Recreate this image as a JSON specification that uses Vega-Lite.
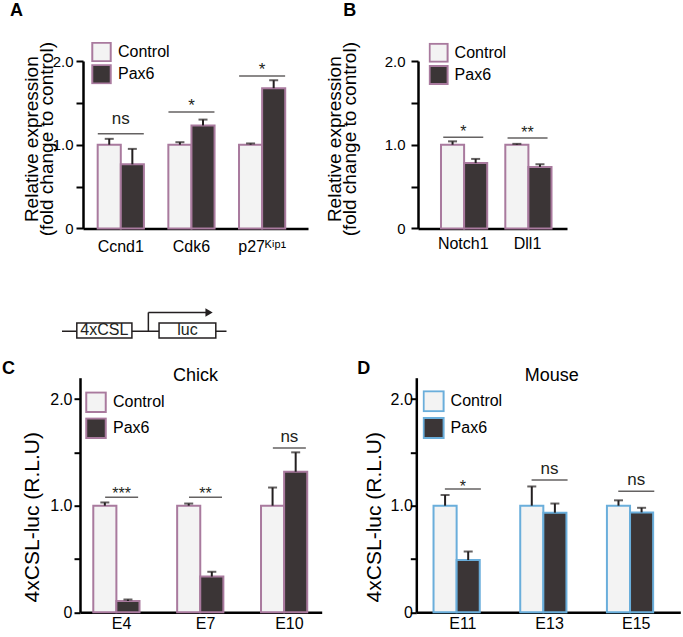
{
  "$schema": "https://vega.github.io/schema/vega-lite/v6.json",
  "padding": {"left": 2, "top": 2, "right": 5, "bottom": 5},
  "background": "white",
  "config": {
    "font": "Liberation Sans",
    "view": {"stroke": null},
    "axis": {"domainColor": "#000", "tickColor": "#000", "labelColor": "#000", "titleColor": "#000", "grid": false, "titleFontWeight": "normal", "labelFont": "Liberation Sans, DejaVu Sans", "titleFont": "Liberation Sans"},
    "legend": {"labelColor": "#000", "labelFont": "Liberation Sans"},
    "title": {"color": "#000", "font": "Liberation Sans"}
  },
  "datasets": {
    "a": [
      {"gene": "Ccnd1", "group": "Control", "value": 1.0, "hi": 1.07},
      {"gene": "Ccnd1", "group": "Pax6", "value": 0.765, "hi": 0.95},
      {"gene": "Cdk6", "group": "Control", "value": 1.0, "hi": 1.03},
      {"gene": "Cdk6", "group": "Pax6", "value": 1.23, "hi": 1.30},
      {"gene": "p27ᴷⁱᵖ¹", "group": "Control", "value": 1.0, "hi": 1.015},
      {"gene": "p27ᴷⁱᵖ¹", "group": "Pax6", "value": 1.675, "hi": 1.77}
    ],
    "a_sig": [
      {"gene": "Ccnd1", "line": 1.13, "sig": "ns"},
      {"gene": "Cdk6", "line": 1.39, "sig": "*"},
      {"gene": "p27ᴷⁱᵖ¹", "line": 1.82, "sig": "*"}
    ],
    "b": [
      {"gene": "Notch1", "group": "Control", "value": 1.0, "hi": 1.04},
      {"gene": "Notch1", "group": "Pax6", "value": 0.78, "hi": 0.83},
      {"gene": "Dll1", "group": "Control", "value": 1.0, "hi": 1.01},
      {"gene": "Dll1", "group": "Pax6", "value": 0.735, "hi": 0.765}
    ],
    "b_sig": [
      {"gene": "Notch1", "line": 1.09, "sig": "*"},
      {"gene": "Dll1", "line": 1.08, "sig": "**"}
    ],
    "c": [
      {"age": "E4", "group": "Control", "value": 1.0, "hi": 1.03},
      {"age": "E4", "group": "Pax6", "value": 0.106, "hi": 0.12},
      {"age": "E7", "group": "Control", "value": 1.0, "hi": 1.02},
      {"age": "E7", "group": "Pax6", "value": 0.335, "hi": 0.38},
      {"age": "E10", "group": "Control", "value": 1.0, "hi": 1.17},
      {"age": "E10", "group": "Pax6", "value": 1.318, "hi": 1.50}
    ],
    "c_sig": [
      {"age": "E4", "line": 1.08, "sig": "***"},
      {"age": "E7", "line": 1.08, "sig": "**"},
      {"age": "E10", "line": 1.54, "sig": "ns"}
    ],
    "d": [
      {"age": "E11", "group": "Control", "value": 1.0, "hi": 1.10},
      {"age": "E11", "group": "Pax6", "value": 0.49, "hi": 0.57},
      {"age": "E13", "group": "Control", "value": 1.0, "hi": 1.18},
      {"age": "E13", "group": "Pax6", "value": 0.934, "hi": 1.02},
      {"age": "E15", "group": "Control", "value": 1.0, "hi": 1.05},
      {"age": "E15", "group": "Pax6", "value": 0.937, "hi": 0.98}
    ],
    "d_sig": [
      {"age": "E11", "line": 1.157, "sig": "*"},
      {"age": "E13", "line": 1.24, "sig": "ns"},
      {"age": "E15", "line": 1.135, "sig": "ns"}
    ],
    "diag_lines": [
      {"part": "backbone", "x1": 0, "x2": 100, "y1": 0, "y2": 0},
      {"part": "tss", "x1": 52.5, "x2": 52.5, "y1": 0, "y2": 2.5},
      {"part": "arrow", "x1": 52.5, "x2": 89, "y1": 2.5, "y2": 2.5}
    ],
    "diag_boxes": [
      {"label": "4xCSL", "x1": 9, "x2": 42.5, "y1": -0.9, "y2": 1.1, "xm": 25.75, "ym": 0.15},
      {"label": "luc", "x1": 59, "x2": 93.5, "y1": -0.9, "y2": 1.1, "xm": 76.25, "ym": 0.15}
    ],
    "diag_head": [{"x": 89.4, "y": 2.5}],
    "empty": []
  },
  "columns": 2,
  "align": "each",
  "bounds": "flush",
  "spacing": {"row": 14.35, "column": 94.3},
  "resolve": {"scale": {"fill": "independent", "x": "independent", "y": "independent"}, "legend": {"fill": "independent"}},
  "concat": [
    {
      "title": {"text": "A", "anchor": "start", "frame": "group", "dx": -70, "dy": -17.5, "fontSize": 18, "fontWeight": "bold"},
      "width": 228, "height": 167.4,
      "layer": [
        {
          "data": {"name": "a"},
          "mark": {"type": "bar", "stroke": "#a97a9e", "strokeWidth": 2},
          "encoding": {
            "x": {"field": "gene", "type": "nominal", "sort": ["Ccnd1", "Cdk6", "p27ᴷⁱᵖ¹"], "scale": {"range": [3, 228], "paddingInner": 0.346, "paddingOuter": 0.265, "align": 0.392},
                  "axis": {"title": null, "ticks": false, "labelAngle": 0, "labelFontSize": 16, "labelPadding": 10, "domainWidth": 2.5}},
            "xOffset": {"field": "group", "type": "nominal", "scale": {"paddingInner": 0, "paddingOuter": 0}},
            "y": {"field": "value", "type": "quantitative", "scale": {"domain": [0, 2], "nice": false},
                  "axis": {"title": ["Relative expression", "(fold change to control)"], "titleFontSize": 19, "titleLineHeight": 15, "titlePadding": -4, "titleY": 77.7, "values": [0, 0.5, 1, 1.5, 2], "labelExpr": "datum.value == 0 ? '0' : (datum.value == 1 || datum.value == 2) ? format(datum.value, '.1f') : ''", "labelFontSize": 15, "labelPadding": 3, "tickSize": 7, "tickWidth": 2, "domainWidth": 2.5, "offset": -3}},
            "fill": {"field": "group", "type": "nominal", "scale": {"domain": ["Control", "Pax6"], "range": ["#f3f3f3", "#3b3536"]},
                     "legend": {"orient": "none", "legendX": 11, "legendY": -19, "title": null, "symbolType": "square", "symbolSize": 340, "symbolStrokeColor": "#a97a9e", "symbolStrokeWidth": 2, "labelFontSize": 16, "clipHeight": 20, "rowPadding": 2.2, "labelOffset": 6}}
          }
        },
        {
          "data": {"name": "a"},
          "mark": {"type": "rule", "color": "#231f20", "strokeWidth": 2},
          "encoding": {"x": {"field": "gene", "type": "nominal", "sort": ["Ccnd1", "Cdk6", "p27ᴷⁱᵖ¹"]}, "xOffset": {"field": "group", "type": "nominal"}, "y": {"field": "value", "type": "quantitative"}, "y2": {"field": "hi"}}
        },
        {
          "data": {"name": "a"},
          "mark": {"type": "tick", "color": "#231f20", "thickness": 2, "size": 9},
          "encoding": {"x": {"field": "gene", "type": "nominal", "sort": ["Ccnd1", "Cdk6", "p27ᴷⁱᵖ¹"]}, "xOffset": {"field": "group", "type": "nominal"}, "y": {"field": "hi", "type": "quantitative"}}
        },
        {
          "data": {"name": "a_sig"},
          "mark": {"type": "tick", "color": "#231f20", "thickness": 1.5, "size": 46},
          "encoding": {"x": {"field": "gene", "type": "nominal", "sort": ["Ccnd1", "Cdk6", "p27ᴷⁱᵖ¹"]}, "y": {"field": "line", "type": "quantitative"}}
        },
        {
          "data": {"name": "a_sig"},
          "transform": [{"filter": "datum.sig == 'ns'"}],
          "mark": {"type": "text", "fontSize": 17, "dy": -10, "baseline": "alphabetic", "color": "#231f20"},
          "encoding": {"x": {"field": "gene", "type": "nominal", "sort": ["Ccnd1", "Cdk6", "p27ᴷⁱᵖ¹"]}, "y": {"field": "line", "type": "quantitative"}, "text": {"field": "sig"}}
        },
        {
          "data": {"name": "a_sig"},
          "transform": [{"filter": "datum.sig != 'ns'"}],
          "mark": {"type": "text", "fontSize": 17, "dy": -1, "baseline": "alphabetic", "color": "#231f20"},
          "encoding": {"x": {"field": "gene", "type": "nominal", "sort": ["Ccnd1", "Cdk6", "p27ᴷⁱᵖ¹"]}, "y": {"field": "line", "type": "quantitative"}, "text": {"field": "sig"}}
        }
      ]
    },
    {
      "title": {"text": "B", "anchor": "start", "frame": "group", "dx": -73, "dy": -17.5, "fontSize": 18, "fontWeight": "bold"},
      "width": 150.7, "height": 167.4,
      "layer": [
        {
          "data": {"name": "b"},
          "mark": {"type": "bar", "stroke": "#a97a9e", "strokeWidth": 2},
          "encoding": {
            "x": {"field": "gene", "type": "nominal", "sort": ["Notch1", "Dll1"], "scale": {"range": [1.7, 150.7], "paddingInner": 0.308, "paddingOuter": 0.3126, "align": 0.572},
                  "axis": {"title": null, "ticks": false, "labelAngle": 0, "labelFontSize": 16, "labelPadding": 7, "domainWidth": 2.5}},
            "xOffset": {"field": "group", "type": "nominal", "scale": {"paddingInner": 0, "paddingOuter": 0}},
            "y": {"field": "value", "type": "quantitative", "scale": {"domain": [0, 2], "nice": false},
                  "axis": {"title": ["Relative expression", "(fold change to control)"], "titleFontSize": 19, "titleLineHeight": 15, "titlePadding": 24.5, "titleY": 77.7, "values": [0, 0.5, 1, 1.5, 2], "labelExpr": "datum.value == 0 ? '0' : (datum.value == 1 || datum.value == 2) ? format(datum.value, '.1f') : ''", "labelFontSize": 15, "labelPadding": 6, "tickSize": 7, "tickWidth": 2, "domainWidth": 2.5, "offset": -1.7}},
            "fill": {"field": "group", "type": "nominal", "scale": {"domain": ["Control", "Pax6"], "range": ["#f3f3f3", "#3b3536"]},
                     "legend": {"orient": "none", "legendX": 12.3, "legendY": -18.3, "title": null, "symbolType": "square", "symbolSize": 324, "symbolStrokeColor": "#a97a9e", "symbolStrokeWidth": 2, "labelFontSize": 16, "clipHeight": 20, "rowPadding": 2.2, "labelOffset": 6}}
          }
        },
        {
          "data": {"name": "b"},
          "mark": {"type": "rule", "color": "#231f20", "strokeWidth": 2},
          "encoding": {"x": {"field": "gene", "type": "nominal", "sort": ["Notch1", "Dll1"]}, "xOffset": {"field": "group", "type": "nominal"}, "y": {"field": "value", "type": "quantitative"}, "y2": {"field": "hi"}}
        },
        {
          "data": {"name": "b"},
          "mark": {"type": "tick", "color": "#231f20", "thickness": 2, "size": 9},
          "encoding": {"x": {"field": "gene", "type": "nominal", "sort": ["Notch1", "Dll1"]}, "xOffset": {"field": "group", "type": "nominal"}, "y": {"field": "hi", "type": "quantitative"}}
        },
        {
          "data": {"name": "b_sig"},
          "mark": {"type": "tick", "color": "#231f20", "thickness": 1.5, "size": 40},
          "encoding": {"x": {"field": "gene", "type": "nominal", "sort": ["Notch1", "Dll1"]}, "y": {"field": "line", "type": "quantitative"}}
        },
        {
          "data": {"name": "b_sig"},
          "mark": {"type": "text", "fontSize": 16, "dy": 0, "baseline": "alphabetic", "color": "#231f20"},
          "encoding": {"x": {"field": "gene", "type": "nominal", "sort": ["Notch1", "Dll1"]}, "y": {"field": "line", "type": "quantitative"}, "text": {"field": "sig"}}
        }
      ]
    },
    {
      "width": 160, "height": 120,
      "layer": [
        {
          "data": {"name": "diag_lines"},
          "mark": {"type": "rule", "color": "#231f20", "strokeWidth": 1.5},
          "encoding": {
            "x": {"field": "x1", "type": "quantitative", "scale": {"domain": [0, 100], "range": [-18, 146.5], "nice": false, "zero": false}, "axis": null},
            "x2": {"field": "x2"},
            "y": {"field": "y1", "type": "quantitative", "scale": {"domain": [-1, 3], "range": [95.35, 65.35], "nice": false, "zero": false}, "axis": null},
            "y2": {"field": "y2"}
          }
        },
        {
          "data": {"name": "diag_boxes"},
          "mark": {"type": "rect", "fill": "white", "stroke": "#231f20", "strokeWidth": 1.5},
          "encoding": {
            "x": {"field": "x1", "type": "quantitative", "axis": null},
            "x2": {"field": "x2"},
            "y": {"field": "y1", "type": "quantitative", "axis": null},
            "y2": {"field": "y2"}
          }
        },
        {
          "data": {"name": "diag_boxes"},
          "mark": {"type": "text", "fontSize": 16, "baseline": "middle", "color": "#231f20"},
          "encoding": {
            "x": {"field": "xm", "type": "quantitative", "axis": null},
            "y": {"field": "ym", "type": "quantitative", "axis": null},
            "text": {"field": "label"}
          }
        },
        {
          "data": {"name": "diag_head"},
          "mark": {"type": "point", "shape": "triangle-right", "filled": true, "color": "#231f20", "size": 70, "opacity": 1},
          "encoding": {
            "x": {"field": "x", "type": "quantitative", "axis": null},
            "y": {"field": "y", "type": "quantitative", "axis": null}
          }
        }
      ]
    },
    {
      "width": 10, "height": 10,
      "data": {"name": "empty"},
      "mark": {"type": "point"},
      "encoding": {}
    },
    {
      "title": {"text": "C", "anchor": "start", "frame": "group", "dx": -78, "dy": 15.7, "fontSize": 18, "fontWeight": "bold"},
      "width": 241.7, "height": 234.6,
      "resolve": {"axis": {"x": "independent"}},
      "layer": [
        {
          "data": {"name": "c"},
          "mark": {"type": "bar", "stroke": "#a97a9e", "strokeWidth": 2},
          "encoding": {
            "x": {"field": "age", "type": "nominal", "sort": ["E4", "E7", "E10"], "scale": {"range": [0, 241.7], "paddingInner": 0.324, "paddingOuter": 0.103, "align": 0.769},
                  "axis": {"orient": "bottom", "title": null, "ticks": false, "labelAngle": 0, "labelFontSize": 16, "labelPadding": 3, "domainWidth": 2.5}},
            "xOffset": {"field": "group", "type": "nominal", "scale": {"paddingInner": 0.21, "paddingOuter": 0}},
            "y": {"field": "value", "type": "quantitative", "scale": {"domain": [0, 2.2], "nice": false},
                  "axis": {"title": "4xCSL-luc (R.L.U)", "titleFontSize": 21, "titlePadding": 7, "titleY": 139, "values": [0, 0.5, 1, 1.5, 2], "labelExpr": "datum.value == 0 ? '0' : (datum.value == 1 || datum.value == 2) ? format(datum.value, '.1f') : ''", "labelFontSize": 16, "labelPadding": 2, "tickSize": 6, "tickWidth": 2, "domainWidth": 2.5}},
            "fill": {"field": "group", "type": "nominal", "scale": {"domain": ["Control", "Pax6"], "range": ["#f3f3f3", "#3b3536"]},
                     "legend": {"orient": "none", "legendX": 5, "legendY": 13.5, "title": null, "symbolType": "square", "symbolSize": 380, "symbolStrokeColor": "#a97a9e", "symbolStrokeWidth": 2, "labelFontSize": 16, "clipHeight": 22, "rowPadding": 4, "labelOffset": 6}}
          }
        },
        {
          "data": {"name": "c"},
          "mark": {"type": "rule", "color": "#231f20", "strokeWidth": 2},
          "encoding": {"x": {"field": "age", "type": "nominal", "sort": ["E4", "E7", "E10"], "axis": null}, "xOffset": {"field": "group", "type": "nominal"}, "y": {"field": "value", "type": "quantitative"}, "y2": {"field": "hi"}}
        },
        {
          "data": {"name": "c"},
          "mark": {"type": "tick", "color": "#231f20", "thickness": 2, "size": 9},
          "encoding": {"x": {"field": "age", "type": "nominal", "sort": ["E4", "E7", "E10"], "axis": null}, "xOffset": {"field": "group", "type": "nominal"}, "y": {"field": "hi", "type": "quantitative"}}
        },
        {
          "data": {"name": "c_sig"},
          "mark": {"type": "tick", "color": "#231f20", "thickness": 1.5, "size": 33},
          "encoding": {"x": {"field": "age", "type": "nominal", "sort": ["E4", "E7", "E10"],
                             "axis": {"orient": "top", "title": "Chick", "titleFontSize": 18, "titleFontWeight": "normal", "labels": false, "ticks": false, "domain": false, "titlePadding": -2.6, "titleBaseline": "alphabetic", "titleX": 115}},
                       "y": {"field": "line", "type": "quantitative"}}
        },
        {
          "data": {"name": "c_sig"},
          "transform": [{"filter": "datum.sig == 'ns'"}],
          "mark": {"type": "text", "fontSize": 17, "dy": -6, "baseline": "alphabetic", "color": "#231f20"},
          "encoding": {"x": {"field": "age", "type": "nominal", "sort": ["E4", "E7", "E10"], "axis": null}, "y": {"field": "line", "type": "quantitative"}, "text": {"field": "sig"}}
        },
        {
          "data": {"name": "c_sig"},
          "transform": [{"filter": "datum.sig != 'ns'"}],
          "mark": {"type": "text", "fontSize": 16, "dy": 2, "baseline": "alphabetic", "color": "#231f20"},
          "encoding": {"x": {"field": "age", "type": "nominal", "sort": ["E4", "E7", "E10"], "axis": null}, "y": {"field": "line", "type": "quantitative"}, "text": {"field": "sig"}}
        }
      ]
    },
    {
      "title": {"text": "D", "anchor": "start", "frame": "group", "dx": -59, "dy": 15.4, "fontSize": 18, "fontWeight": "bold"},
      "width": 264, "height": 234.6,
      "resolve": {"axis": {"x": "independent"}},
      "layer": [
        {
          "data": {"name": "d"},
          "mark": {"type": "bar", "stroke": "#6aaedb", "strokeWidth": 2},
          "encoding": {
            "x": {"field": "age", "type": "nominal", "sort": ["E11", "E13", "E15"], "scale": {"range": [0, 264], "paddingInner": 0.323, "paddingOuter": 0.184, "align": 0.54},
                  "axis": {"orient": "bottom", "title": null, "ticks": false, "labelAngle": 0, "labelFontSize": 16, "labelPadding": 3, "domainWidth": 2.5}},
            "xOffset": {"field": "group", "type": "nominal", "scale": {"paddingInner": 0.18, "paddingOuter": 0}},
            "y": {"field": "value", "type": "quantitative", "scale": {"domain": [0, 2.2], "nice": false},
                  "axis": {"title": "4xCSL-luc (R.L.U)", "titleFontSize": 21, "titlePadding": 6, "titleY": 139, "values": [0, 0.5, 1, 1.5, 2], "labelExpr": "datum.value == 0 ? '0' : (datum.value == 1 || datum.value == 2) ? format(datum.value, '.1f') : ''", "labelFontSize": 16, "labelPadding": -2, "tickSize": 6, "tickWidth": 2, "domainWidth": 2.5}},
            "fill": {"field": "group", "type": "nominal", "scale": {"domain": ["Control", "Pax6"], "range": ["#f3f3f3", "#3b3536"]},
                     "legend": {"orient": "none", "legendX": 6.3, "legendY": 12.6, "title": null, "symbolType": "square", "symbolSize": 400, "symbolStrokeColor": "#6aaedb", "symbolStrokeWidth": 2, "labelFontSize": 16, "clipHeight": 22, "rowPadding": 4.7, "labelOffset": 6}}
          }
        },
        {
          "data": {"name": "d"},
          "mark": {"type": "rule", "color": "#231f20", "strokeWidth": 2},
          "encoding": {"x": {"field": "age", "type": "nominal", "sort": ["E11", "E13", "E15"], "axis": null}, "xOffset": {"field": "group", "type": "nominal"}, "y": {"field": "value", "type": "quantitative"}, "y2": {"field": "hi"}}
        },
        {
          "data": {"name": "d"},
          "mark": {"type": "tick", "color": "#231f20", "thickness": 2, "size": 9},
          "encoding": {"x": {"field": "age", "type": "nominal", "sort": ["E11", "E13", "E15"], "axis": null}, "xOffset": {"field": "group", "type": "nominal"}, "y": {"field": "hi", "type": "quantitative"}}
        },
        {
          "data": {"name": "d_sig"},
          "mark": {"type": "tick", "color": "#231f20", "thickness": 1.5, "size": 36},
          "encoding": {"x": {"field": "age", "type": "nominal", "sort": ["E11", "E13", "E15"],
                             "axis": {"orient": "top", "title": "Mouse", "titleFontSize": 18, "titleFontWeight": "normal", "labels": false, "ticks": false, "domain": false, "titlePadding": -2.6, "titleBaseline": "alphabetic", "titleX": 135}},
                       "y": {"field": "line", "type": "quantitative"}}
        },
        {
          "data": {"name": "d_sig"},
          "transform": [{"filter": "datum.sig == 'ns'"}],
          "mark": {"type": "text", "fontSize": 17, "dy": -6, "baseline": "alphabetic", "color": "#231f20"},
          "encoding": {"x": {"field": "age", "type": "nominal", "sort": ["E11", "E13", "E15"], "axis": null}, "y": {"field": "line", "type": "quantitative"}, "text": {"field": "sig"}}
        },
        {
          "data": {"name": "d_sig"},
          "transform": [{"filter": "datum.sig != 'ns'"}],
          "mark": {"type": "text", "fontSize": 16, "dy": 3, "baseline": "alphabetic", "color": "#231f20"},
          "encoding": {"x": {"field": "age", "type": "nominal", "sort": ["E11", "E13", "E15"], "axis": null}, "y": {"field": "line", "type": "quantitative"}, "text": {"field": "sig"}}
        }
      ]
    }
  ]
}
